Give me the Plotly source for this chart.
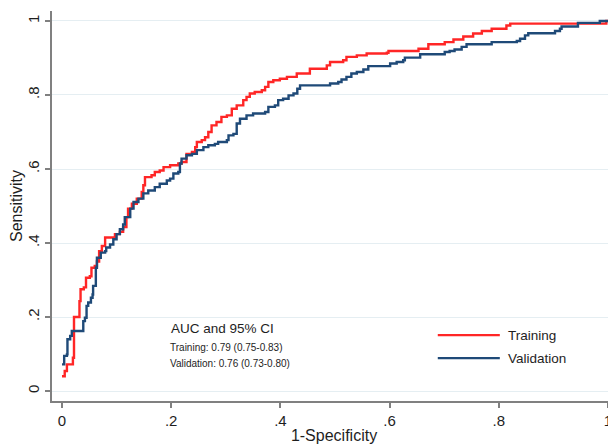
import plotly.graph_objects as go

# ---- data ----
train_fpr = [0.000, 0.005, 0.009, 0.016, 0.020, 0.022, 0.022, 0.028, 0.032, 0.034,
             0.040, 0.044, 0.051, 0.054, 0.060, 0.064, 0.068, 0.073, 0.079, 0.091,
             0.097, 0.106, 0.112, 0.118, 0.121, 0.128, 0.137, 0.146, 0.149, 0.152,
             0.164, 0.170, 0.179, 0.186, 0.198, 0.213, 0.219, 0.228, 0.238, 0.244,
             0.247, 0.256, 0.262, 0.268, 0.274, 0.283, 0.292, 0.302, 0.311, 0.320,
             0.332, 0.338, 0.344, 0.353, 0.366, 0.372, 0.378, 0.387, 0.399, 0.412,
             0.430, 0.454, 0.485, 0.491, 0.515, 0.521, 0.540, 0.558, 0.595, 0.598,
             0.653, 0.671, 0.701, 0.717, 0.735, 0.753, 0.769, 0.787, 0.814, 0.821,
             0.950, 0.997, 1.000]
train_tpr = [0.040, 0.054, 0.072, 0.072, 0.090, 0.153, 0.200, 0.200, 0.243, 0.275,
             0.280, 0.306, 0.310, 0.333, 0.338, 0.350, 0.378, 0.392, 0.415, 0.415,
             0.424, 0.430, 0.443, 0.470, 0.493, 0.506, 0.520, 0.538, 0.556, 0.578,
             0.583, 0.592, 0.596, 0.605, 0.610, 0.615, 0.619, 0.641, 0.646, 0.659,
             0.673, 0.678, 0.686, 0.700, 0.718, 0.727, 0.741, 0.745, 0.763, 0.772,
             0.786, 0.795, 0.804, 0.808, 0.813, 0.822, 0.835, 0.840, 0.844, 0.849,
             0.858, 0.871, 0.880, 0.889, 0.894, 0.903, 0.907, 0.912, 0.914, 0.919,
             0.925, 0.937, 0.943, 0.950, 0.958, 0.966, 0.973, 0.979, 0.988, 0.993,
             0.993, 1.000, 1.000]

valid_fpr = [0.000, 0.004, 0.009, 0.010, 0.015, 0.018, 0.036, 0.039, 0.042, 0.045,
             0.048, 0.053, 0.056, 0.057, 0.062, 0.064, 0.071, 0.079, 0.081, 0.088,
             0.094, 0.100, 0.106, 0.112, 0.115, 0.125, 0.131, 0.140, 0.149, 0.158,
             0.170, 0.179, 0.192, 0.198, 0.204, 0.213, 0.216, 0.219, 0.228, 0.238,
             0.247, 0.259, 0.268, 0.280, 0.286, 0.302, 0.305, 0.314, 0.320, 0.326,
             0.338, 0.350, 0.372, 0.378, 0.390, 0.396, 0.405, 0.415, 0.424, 0.431,
             0.436, 0.488, 0.491, 0.506, 0.512, 0.521, 0.530, 0.540, 0.552, 0.561,
             0.598, 0.601, 0.613, 0.625, 0.628, 0.650, 0.656, 0.695, 0.701, 0.710,
             0.719, 0.732, 0.741, 0.787, 0.833, 0.839, 0.848, 0.854, 0.897, 0.903,
             0.912, 0.915, 0.942, 0.945, 0.985, 1.000]
valid_tpr = [0.072, 0.095, 0.099, 0.140, 0.149, 0.162, 0.162, 0.189, 0.198, 0.230,
             0.239, 0.252, 0.261, 0.284, 0.333, 0.360, 0.374, 0.378, 0.388, 0.396,
             0.410, 0.424, 0.437, 0.450, 0.470, 0.493, 0.511, 0.520, 0.534, 0.542,
             0.551, 0.560, 0.569, 0.574, 0.588, 0.592, 0.615, 0.628, 0.637, 0.641,
             0.651, 0.659, 0.664, 0.668, 0.673, 0.678, 0.691, 0.695, 0.723, 0.736,
             0.745, 0.750, 0.754, 0.768, 0.772, 0.786, 0.790, 0.799, 0.804, 0.817,
             0.826, 0.826, 0.831, 0.835, 0.842, 0.849, 0.858, 0.862, 0.869, 0.878,
             0.878, 0.885, 0.889, 0.894, 0.901, 0.901, 0.910, 0.910, 0.916, 0.919,
             0.923, 0.930, 0.937, 0.943, 0.946, 0.952, 0.961, 0.967, 0.967, 0.973,
             0.979, 0.985, 0.985, 0.995, 1.000, 1.000]

series_names = ["Training", "Validation"]
x_ticks = [0, 0.2, 0.4, 0.6, 0.8, 1]
x_tick_labels = ["0", ".2", ".4", ".6", ".8", "1"]
y_ticks = [0, 0.2, 0.4, 0.6, 0.8, 1]
y_tick_labels = ["0", ".2", ".4", ".6", ".8", "1"]
auc_title = "AUC and 95% CI"
auc_lines = ["Training: 0.79 (0.75-0.83)", "Validation: 0.76 (0.73-0.80)"]

RED = "#ff2626"
NAVY = "#1f4a78"
FONT = "Liberation Sans, Arial, sans-serif"
TXT = "#1e1e1e"

fig = go.Figure()
fig.add_trace(go.Scatter(x=train_fpr, y=train_tpr, mode="lines", name=series_names[0],
                         line=dict(color=RED, width=2.4, shape="hv"), showlegend=False))
fig.add_trace(go.Scatter(x=valid_fpr, y=valid_tpr, mode="lines", name=series_names[1],
                         line=dict(color=NAVY, width=2.4, shape="hv"), showlegend=False))

# manual legend (Stata-like long keys)
legend_rows = [(0.169, RED, series_names[0]), (0.110, NAVY, series_names[1])]
for yy, col, name in legend_rows:
    fig.add_shape(type="line", xref="paper", yref="paper", x0=0.684, x1=0.794, y0=yy, y1=yy,
                  line=dict(color=col, width=2.4))
    fig.add_annotation(xref="paper", yref="paper", x=0.805, y=yy, text=name, showarrow=False,
                       xanchor="left", yanchor="middle", font=dict(size=13.5, color=TXT, family=FONT))

fig.add_annotation(xref="paper", yref="paper", x=0.207, y=0.187, text=auc_title, showarrow=False,
                   xanchor="left", yanchor="middle", font=dict(size=13.5, color=TXT, family=FONT))
for yy, t in zip([0.136, 0.095], auc_lines):
    fig.add_annotation(xref="paper", yref="paper", x=0.205, y=yy, text=t, showarrow=False,
                       xanchor="left", yanchor="middle", font=dict(size=10, color=TXT, family=FONT))

# page body has an 8px margin, so the figure is 608x440 and offset accordingly
fig.update_layout(
    width=608, height=440,
    margin=dict(l=44, r=0, t=3, b=47),
    paper_bgcolor="white", plot_bgcolor="white",
    font=dict(family=FONT, color=TXT),
    xaxis=dict(range=[-0.0183, 1.0147], tickvals=x_ticks, ticktext=x_tick_labels,
               automargin=False,
               showgrid=False, zeroline=False, showline=True, linecolor="#808080", linewidth=2,
               ticks="outside", ticklen=5, tickwidth=1.5, tickcolor="#808080",
               tickfont=dict(size=15, color=TXT),
               title=dict(text="1-Specificity", font=dict(size=16, color=TXT), standoff=2)),
    yaxis=dict(range=[-0.027, 1.027], tickvals=y_ticks, ticktext=y_tick_labels, tickangle=-90,
               automargin=False,
               showgrid=True, gridcolor="#e5eef2", gridwidth=1, zeroline=False,
               showline=True, linecolor="#808080", linewidth=2,
               ticks="outside", ticklen=5, tickwidth=1.5, tickcolor="#808080",
               tickfont=dict(size=15, color=TXT),
               title=dict(text="Sensitivity", font=dict(size=16, color=TXT), standoff=6)),
)

fig.write_html("out.html")
